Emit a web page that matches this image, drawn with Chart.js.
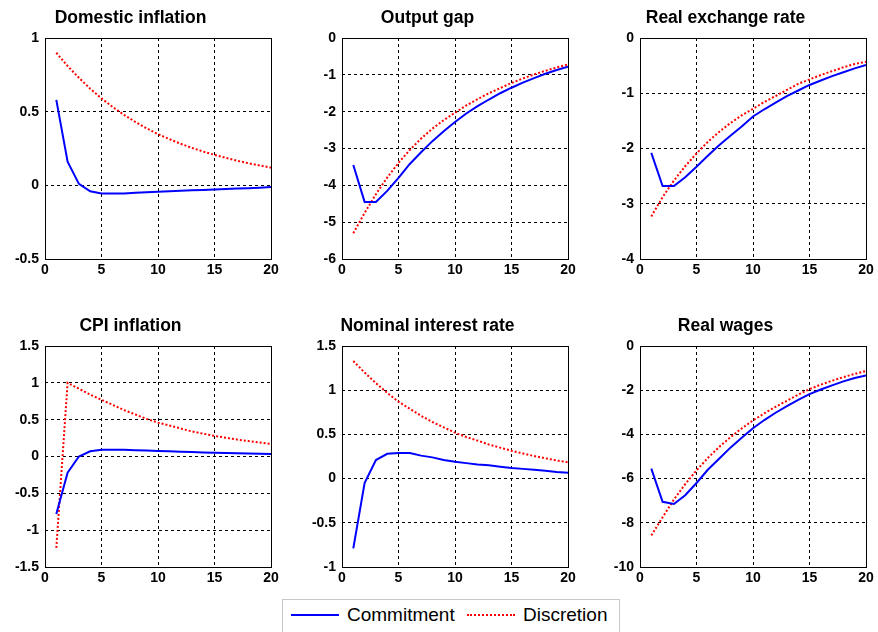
<!DOCTYPE html>
<html>
<head>
<meta charset="utf-8">
<script src="https://cdn.jsdelivr.net/npm/chart.js@4.4.0/dist/chart.umd.min.js"></script>
<style>
html, body { margin: 0; padding: 0; background: #fff; overflow: hidden; width: 878px; height: 632px; }
.panel { position: absolute; }
#legend { position: absolute; left: 282px; top: 599px; width: 336px; height: 40px; border: 1px solid #c8c8c8; background: #fff; font-family: "Liberation Sans", Arial, sans-serif; font-size: 19px; color: #000; }
#legend .sw { position: absolute; top: 14px; width: 48px; height: 0; }
#legend .lbl { position: absolute; top: 4px; line-height: 22px; }
</style>
</head>
<body>
<div class="panel" id="p0"><canvas id="c0"></canvas></div>
<div class="panel" id="p1"><canvas id="c1"></canvas></div>
<div class="panel" id="p2"><canvas id="c2"></canvas></div>
<div class="panel" id="p3"><canvas id="c3"></canvas></div>
<div class="panel" id="p4"><canvas id="c4"></canvas></div>
<div class="panel" id="p5"><canvas id="c5"></canvas></div>
<div id="legend">
  <span class="sw" style="left:8px; border-top:2px solid #0000ff;"></span>
  <span class="lbl" style="left:64px;">Commitment</span>
  <span class="sw" style="left:184px; border-top:2px dotted #ff0000;"></span>
  <span class="lbl" style="left:240px;">Discretion</span>
</div>
<script>
// horizon (quarters)
var periods = [1, 2, 3, 4, 5, 6, 7, 8, 9, 10, 11, 12, 13, 14, 15, 16, 17, 18, 19, 20];
var xTicks = [0, 5, 10, 15, 20];
var seriesNames = ["Commitment", "Discretion"];

var titles = ["Domestic inflation", "Output gap", "Real exchange rate",
              "CPI inflation", "Nominal interest rate", "Real wages"];

var domesticCommitment = [0.58, 0.16, 0.01, -0.04, -0.055, -0.055, -0.055, -0.05, -0.047, -0.043,
                          -0.04, -0.037, -0.034, -0.031, -0.028, -0.025, -0.022, -0.019, -0.016, -0.012];
var domesticDiscretion = [0.90, 0.81, 0.73, 0.656, 0.59, 0.531, 0.478, 0.43, 0.387, 0.347,
                          0.314, 0.282, 0.254, 0.229, 0.207, 0.186, 0.167, 0.15, 0.135, 0.12];
var domesticTicks = [-0.5, 0, 0.5, 1];

var gapCommitment = [-3.45, -4.45, -4.45, -4.15, -3.8, -3.42, -3.1, -2.8, -2.53, -2.28,
                     -2.05, -1.85, -1.67, -1.5, -1.35, -1.21, -1.09, -0.97, -0.87, -0.78];
var gapDiscretion = [-5.3, -4.75, -4.24, -3.79, -3.39, -3.04, -2.73, -2.46, -2.23, -2.03,
                     -1.83, -1.66, -1.5, -1.36, -1.22, -1.1, -0.99, -0.89, -0.8, -0.72];
var gapTicks = [-6, -5, -4, -3, -2, -1, 0];

var rerCommitment = [-2.08, -2.68, -2.68, -2.52, -2.33, -2.13, -1.94, -1.77, -1.6, -1.42,
                     -1.29, -1.17, -1.05, -0.95, -0.85, -0.77, -0.69, -0.62, -0.55, -0.49];
var rerDiscretion = [-3.23, -2.88, -2.58, -2.32, -2.09, -1.88, -1.7, -1.54, -1.4, -1.28,
                     -1.16, -1.05, -0.94, -0.83, -0.75, -0.67, -0.6, -0.53, -0.47, -0.43];
var rerTicks = [-4, -3, -2, -1, 0];

var cpiCommitment = [-0.78, -0.22, 0.0, 0.07, 0.09, 0.09, 0.09, 0.085, 0.08, 0.075,
                     0.07, 0.065, 0.06, 0.055, 0.05, 0.047, 0.044, 0.041, 0.038, 0.035];
var cpiDiscretion = [-1.24, 1.0, 0.92, 0.84, 0.77, 0.7, 0.63, 0.57, 0.51, 0.46,
                     0.42, 0.38, 0.34, 0.31, 0.28, 0.255, 0.23, 0.21, 0.19, 0.17];
var cpiTicks = [-1.5, -1, -0.5, 0, 0.5, 1, 1.5];

var rateCommitment = [-0.79, -0.05, 0.21, 0.28, 0.29, 0.29, 0.26, 0.24, 0.21, 0.19,
                      0.175, 0.16, 0.15, 0.135, 0.12, 0.11, 0.1, 0.09, 0.075, 0.065];
var rateDiscretion = [1.33, 1.2, 1.08, 0.97, 0.87, 0.79, 0.71, 0.64, 0.58, 0.52,
                      0.47, 0.43, 0.385, 0.35, 0.315, 0.285, 0.255, 0.23, 0.205, 0.185];
var rateTicks = [-1, -0.5, 0, 0.5, 1, 1.5];

var wageCommitment = [-5.55, -7.05, -7.15, -6.75, -6.2, -5.6, -5.1, -4.6, -4.15, -3.72,
                      -3.35, -3.02, -2.72, -2.44, -2.18, -1.97, -1.78, -1.6, -1.45, -1.33];
var wageDiscretion = [-8.57, -7.75, -6.95, -6.25, -5.63, -5.07, -4.57, -4.13, -3.73, -3.37,
                      -3.05, -2.75, -2.48, -2.2, -1.95, -1.75, -1.57, -1.41, -1.26, -1.13];
var wageTicks = [-10, -8, -6, -4, -2, 0];

var commitment = [domesticCommitment, gapCommitment, rerCommitment, cpiCommitment, rateCommitment, wageCommitment];
var discretion = [domesticDiscretion, gapDiscretion, rerDiscretion, cpiDiscretion, rateDiscretion, wageDiscretion];
var yTicks = [domesticTicks, gapTicks, rerTicks, cpiTicks, rateTicks, wageTicks];

// plot boxes (left, top) in page pixels, all 226 x 221
var plotLefts = [45, 342, 640, 45, 342, 640];
var plotTops = [38, 38, 38, 346, 346, 346];
var plotW = 226, plotH = 221;
var margin = 55, titleH = 38, xAxisH = 26;

var fontFamily = "'Liberation Sans', Arial, Helvetica, sans-serif";

// solid black axes box, like matlab's "box on"
var boxPlugin = {
    id: "boxPlugin",
    afterDraw: function(chart) {
        var a = chart.chartArea;
        var ctx = chart.ctx;
        ctx.save();
        ctx.strokeStyle = "#000";
        ctx.lineWidth = 1;
        ctx.strokeRect(Math.round(a.left) + 0.5, Math.round(a.top) + 0.5,
                       Math.round(a.right - a.left), Math.round(a.bottom - a.top));
        ctx.restore();
    }
};

function toPoints(values) {
    return values.map(function(v, i) { return { x: periods[i], y: v }; });
}

for (var i = 0; i < 6; i++) {
    var panel = document.getElementById("p" + i);
    panel.style.left = (plotLefts[i] - margin) + "px";
    panel.style.top = (plotTops[i] - titleH) + "px";
    var canvas = document.getElementById("c" + i);
    canvas.width = plotW + 2 * margin;
    canvas.height = titleH + plotH + xAxisH;

    (function(ticksY) {
        new Chart(canvas.getContext("2d"), {
            type: "line",
            data: {
                datasets: [{
                    label: seriesNames[0],
                    data: toPoints(commitment[i]),
                    borderColor: "#0000ff",
                    borderWidth: 2,
                    pointRadius: 0,
                    tension: 0
                }, {
                    label: seriesNames[1],
                    data: toPoints(discretion[i]),
                    borderColor: "#ff0000",
                    borderWidth: 2,
                    borderDash: [2, 2],
                    pointRadius: 0,
                    tension: 0
                }]
            },
            options: {
                responsive: false,
                animation: false,
                layout: { padding: { left: 0, right: margin, top: 0, bottom: 0 } },
                plugins: {
                    legend: { display: false },
                    tooltip: { enabled: false },
                    title: {
                        display: true,
                        text: titles[i],
                        color: "#000",
                        font: { family: fontFamily, size: 17.5, weight: "bold", lineHeight: "20px" },
                        padding: { top: 8, bottom: 10 }
                    }
                },
                scales: {
                    x: {
                        type: "linear",
                        min: xTicks[0],
                        max: xTicks[xTicks.length - 1],
                        afterBuildTicks: function(axis) {
                            axis.ticks = xTicks.map(function(v) { return { value: v }; });
                        },
                        afterFit: function(scale) { scale.height = xAxisH; },
                        ticks: {
                            color: "#000",
                            padding: 3,
                            maxRotation: 0,
                            font: { family: fontFamily, size: 14, weight: "bold" },
                            callback: function(v) { return String(v); }
                        },
                        grid: { color: "#000", lineWidth: 1, drawTicks: false },
                        border: { display: false, dash: [3, 3] }
                    },
                    y: {
                        min: ticksY[0],
                        max: ticksY[ticksY.length - 1],
                        afterBuildTicks: function(axis) {
                            axis.ticks = ticksY.map(function(v) { return { value: v }; });
                        },
                        afterFit: function(scale) { scale.width = margin; },
                        ticks: {
                            color: "#000",
                            padding: 6,
                            font: { family: fontFamily, size: 14, weight: "bold" },
                            callback: function(v) { return String(v); }
                        },
                        grid: { color: "#000", lineWidth: 1, drawTicks: false },
                        border: { display: false, dash: [3, 3] }
                    }
                }
            },
            plugins: [boxPlugin]
        });
    })(yTicks[i]);
}
</script>
</body>
</html>
